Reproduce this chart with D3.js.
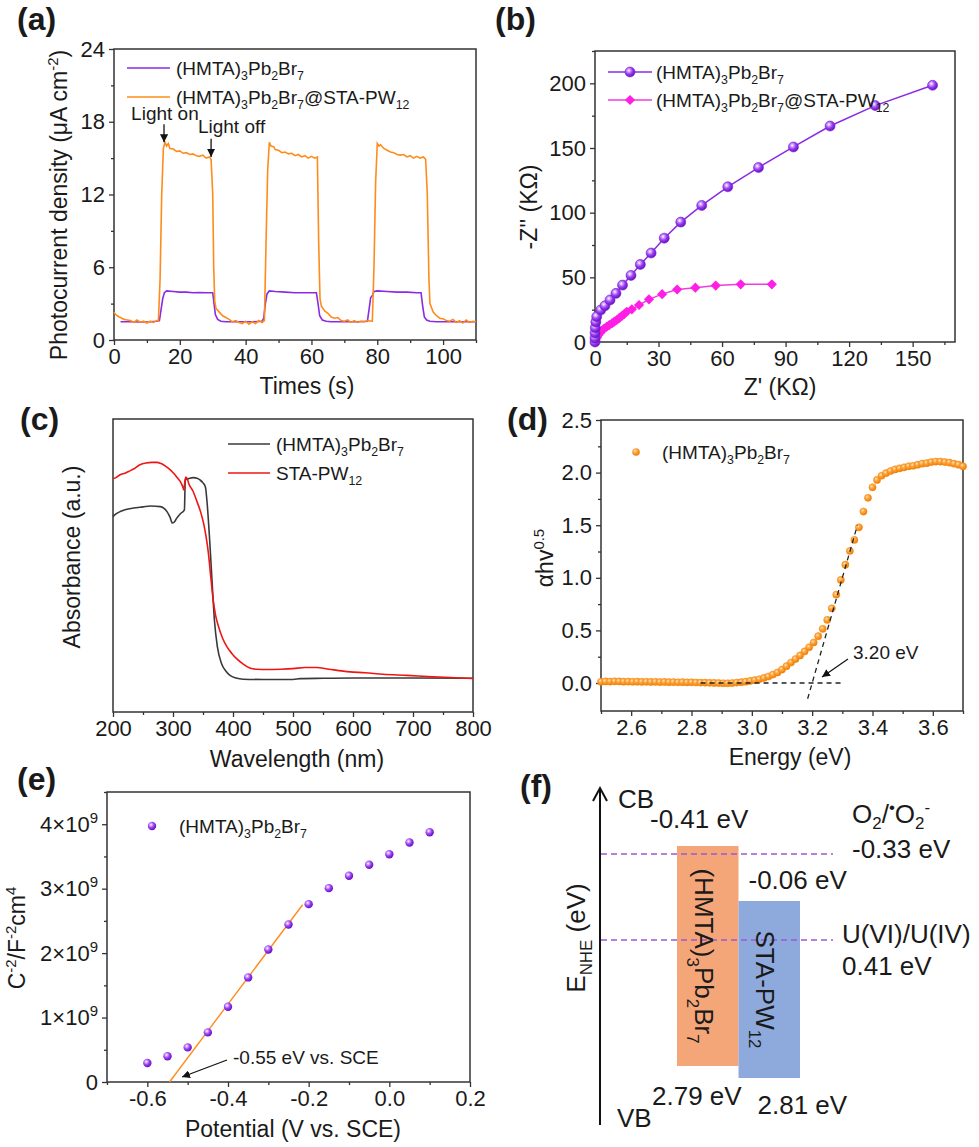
<!DOCTYPE html>
<html><head><meta charset="utf-8">
<script src="https://cdn.jsdelivr.net/npm/d3@7"></script>
<style>body{margin:0;background:#fff}</style>
</head><body>
<script>
// ================= DATA =================
// (a) photocurrent [time s, µA cm-2]
const photoPurple = [[2,1.5],[5,1.5],[8,1.48],[11,1.5],[13,1.55],[13.8,1.6],[14.3,2.5],[14.8,3.4],[15.3,3.9],[16,4.05],[18,4.0],[20,3.95],[22,3.95],[24,3.9],[26,3.92],[28,3.9],[30,3.9],[30.4,3.0],[30.8,2.1],[31.5,1.7],[32.5,1.55],[34,1.5],[38,1.5],[42,1.5],[45,1.55],[45.5,1.8],[46,3.0],[46.5,3.8],[47.2,4.05],[49,4.0],[52,3.95],[55,3.9],[58,3.9],[61.5,3.9],[62,3.0],[62.5,2.0],[63.3,1.65],[64.5,1.55],[66,1.5],[70,1.5],[74,1.5],[77,1.55],[77.5,2.5],[78,3.5],[78.6,3.7],[79,4.0],[80,4.05],[83,4.0],[86,3.95],[89,3.95],[92,3.9],[93.3,3.9],[93.8,2.8],[94.3,1.9],[95,1.65],[96,1.55],[98,1.5],[102,1.5],[106,1.5],[110,1.5]];
const photoOrange = [[0,2.3],[0.5,2.1],[1,2.0],[1.5,1.9],[2,1.85],[3,1.7],[4,1.65],[5,1.6],[6,1.45],[7,1.65],[8,1.45],[9,1.55],[10,1.4],[11,1.55],[12,1.45],[13,1.6],[13.5,1.6],[14,5],[14.5,12],[15,15.8],[15.5,16.3],[16,16.0],[16.5,16.2],[17,15.8],[18,15.75],[19,15.55],[20,15.6],[21,15.4],[22,15.45],[23,15.3],[24,15.35],[25,15.2],[26,15.15],[27,15.25],[28,15.0],[29,15.1],[29.5,14.9],[30,12],[30.3,6],[30.6,3.2],[31,2.6],[32,2.3],[33,2.0],[34,1.85],[35,1.7],[36,1.5],[37,1.6],[38,1.45],[39,1.35],[40,1.55],[41,1.3],[42,1.5],[43,1.35],[44,1.6],[45,1.45],[45.7,1.6],[46.2,8],[46.7,14],[47.2,16.3],[47.7,16.0],[48.5,15.95],[49,15.7],[50,15.65],[51,15.45],[52,15.5],[53,15.35],[54,15.4],[55,15.2],[56,15.3],[57,15.1],[58,15.2],[59,15.0],[60,15.15],[61,15.0],[61.8,15.1],[62.2,8],[62.6,3.4],[63,2.8],[64,2.4],[65,2.2],[66,1.9],[67,1.8],[68,1.85],[69,1.6],[70,1.55],[71,1.65],[72,1.45],[73,1.6],[74,1.45],[75,1.55],[76,1.5],[77,1.6],[78.5,1.55],[79,6],[79.5,13],[80,16.2],[80.5,16.0],[81,16.1],[82,15.8],[83,15.65],[84,15.5],[85,15.45],[86,15.3],[87,15.25],[88,15.3],[89,15.1],[90,15.2],[91,15.0],[92,15.15],[93,15.0],[94,15.1],[94.7,14.9],[95.2,12],[95.7,5],[96,3],[97,2.3],[98,2.0],[99,1.8],[100,1.75],[101,1.6],[102,1.55],[103,1.7],[104,1.45],[105,1.6],[106,1.4],[107,1.65],[108,1.45],[109,1.55],[110,1.5]];
const aXTicks = [0,20,40,60,80,100];
const aYTicks = [0,6,12,18,24];

// (b) Nyquist [Z' kΩ, -Z'' kΩ]
const nyqPurple = [[0,0],[0,3],[0.05,7],[0.15,11],[0.4,15.5],[0.8,19.6],[2.7,24.7],[4.7,28],[7.1,32.5],[9.9,37.6],[13,44],[17,51.5],[21.4,60],[26.5,68.8],[32.7,80.3],[40.5,92.7],[50.4,105.6],[62.7,120],[77.2,134.9],[93.7,150.8],[111,167],[132.3,182.8],[159.4,198.5]];
const nyqPink = [[0,0],[0.3,1.5],[0.9,3.5],[1.6,5.4],[2.4,7.1],[3.2,8.8],[4.3,10.3],[5.5,11.8],[6.7,13.1],[8,14.4],[9.1,15.7],[10.3,17],[11.5,18.6],[12.7,20.1],[13.9,21.8],[15,23.4],[17.4,25.3],[20.8,28.6],[25.5,33],[31.7,37],[38.8,40.6],[47.4,42],[57,43.6],[68.8,44.6],[83.5,44.6]];
const bXTicks = [0,30,60,90,120,150];
const bYTicks = [0,50,100,150,200];

// (c) UV-vis absorbance [nm, a.u.]
const absHMTA = [[200,0.667],[205,0.676],[212,0.684],[220,0.690],[234,0.696],[250,0.700],[262,0.703],[279,0.701],[285,0.695],[290,0.684],[295,0.665],[299,0.645],[303,0.650],[306,0.661],[312,0.676],[319,0.690],[320.5,0.792],[327,0.797],[334,0.800],[340,0.798],[345,0.792],[350,0.782],[354,0.768],[357,0.710],[361,0.590],[365,0.450],[369,0.314],[374,0.222],[381,0.165],[388,0.140],[395,0.125],[405,0.116],[417,0.112],[450,0.111],[500,0.111],[512,0.114],[550,0.115],[600,0.116],[700,0.116],[800,0.115]];
const absSTA = [[200,0.796],[205,0.800],[212,0.810],[220,0.815],[226,0.821],[235,0.830],[245,0.844],[255,0.850],[265,0.852],[273,0.852],[280,0.848],[284,0.844],[292,0.832],[301,0.815],[307,0.800],[312,0.787],[316,0.770],[318,0.758],[320,0.790],[321.5,0.802],[324,0.795],[326,0.781],[333,0.755],[340,0.718],[346,0.683],[351,0.644],[355,0.600],[359,0.542],[363,0.460],[367,0.382],[371,0.330],[376,0.291],[383,0.250],[390,0.222],[398,0.200],[406,0.182],[416,0.165],[428,0.150],[440,0.146],[456,0.145],[480,0.146],[500,0.148],[520,0.152],[539,0.152],[560,0.146],[595,0.137],[620,0.134],[650,0.129],[690,0.125],[733,0.120],[770,0.117],[800,0.114]];
const cXTicks = [200,300,400,500,600,700,800];

// (d) Tauc plot [eV, (αhν)^0.5]
const taucE = [2.500,2.515,2.530,2.545,2.560,2.575,2.590,2.605,2.620,2.635,2.650,2.665,2.680,2.695,2.710,2.725,2.740,2.755,2.770,2.785,2.800,2.815,2.830,2.845,2.860,2.875,2.890,2.905,2.920,2.935,2.950,2.965,2.980,2.995,3.010,3.025,3.040,3.055,3.070,3.085,3.100,3.115,3.130,3.145,3.160,3.175,3.190,3.205,3.220,3.235,3.250,3.265,3.280,3.295,3.310,3.325,3.340,3.355,3.370,3.385,3.400,3.415,3.430,3.445,3.460,3.475,3.490,3.505,3.520,3.535,3.550,3.565,3.580,3.595,3.610,3.625,3.640,3.655,3.670,3.685,3.700];
const taucY = [0.012,0.015,0.014,0.016,0.015,0.013,0.014,0.012,0.013,0.011,0.012,0.010,0.011,0.009,0.010,0.008,0.009,0.007,0.008,0.006,0.007,0.005,0.004,0.003,0.002,0.001,0.000,-0.002,-0.002,0.000,0.004,0.008,0.013,0.020,0.027,0.036,0.048,0.062,0.080,0.100,0.128,0.160,0.195,0.228,0.262,0.300,0.340,0.385,0.445,0.515,0.600,0.710,0.840,0.980,1.125,1.255,1.360,1.480,1.630,1.760,1.860,1.930,1.970,1.995,2.015,2.030,2.040,2.050,2.060,2.065,2.075,2.085,2.090,2.100,2.105,2.105,2.100,2.095,2.085,2.075,2.060];
const taucBase = [[2.83,0],[3.30,0]];
const taucTangent = [[3.185,-0.15],[3.35,1.50]];
const dXTicks = [2.6,2.8,3.0,3.2,3.4,3.6];
const dYTicks = [0,0.5,1.0,1.5,2.0,2.5];

// (e) Mott-Schottky [V vs SCE, C^-2]
const msV = [-0.60,-0.55,-0.50,-0.45,-0.40,-0.35,-0.30,-0.25,-0.20,-0.15,-0.10,-0.05,0.00,0.05,0.10];
const msC = [0.295e9,0.40e9,0.537e9,0.77e9,1.168e9,1.623e9,2.057e9,2.444e9,2.76e9,3.008e9,3.20e9,3.37e9,3.535e9,3.716e9,3.876e9];
const msFit = [[-0.545,0],[-0.215,2.75e9]];
const eXTicks = [-0.6,-0.4,-0.2,0.0,0.2];
const eYTicks = [0,1e9,2e9,3e9,4e9];

// (f) band structure (eV vs NHE)
const bandNames = ["(HMTA)_{3}Pb_{2}Br_{7}", "STA-PW_{12}"];
const bandCB = [-0.41, -0.06];
const bandVB = [2.79, 2.81];
const redoxNames = ["O_{2}/^{•}O_{2}^{-}", "U(VI)/U(IV)"];
const redoxValues = [-0.33, 0.41];

// ================= DRAWING =================
const FONT = 'Arial, "Liberation Sans", Helvetica, sans-serif';
const INK = '#1a1a1a';
const svg = d3.select('body').append('svg').attr('width', 979).attr('height', 1147)
  .attr('font-family', FONT).attr('fill', INK);
svg.append('rect').attr('width', 979).attr('height', 1147).attr('fill', '#fff');

const defs = svg.append('defs');
function ball(id, stops) {
  const g = defs.append('radialGradient').attr('id', id).attr('cx', '38%').attr('cy', '35%').attr('r', '65%');
  stops.forEach(([o, c]) => g.append('stop').attr('offset', o).attr('stop-color', c));
}
ball('ballP', [[0, '#ffffff'], [0.22, '#d2a8ff'], [0.55, '#9b3ef2'], [1, '#6510c4']]);
ball('ballO', [[0, '#ffe6bf'], [0.35, '#ffab4a'], [1, '#f07c00']]);
defs.append('marker').attr('id', 'arr').attr('viewBox', '0 0 10 10').attr('refX', 10).attr('refY', 5)
  .attr('markerWidth', 8).attr('markerHeight', 8).attr('markerUnits', 'userSpaceOnUse').attr('orient', 'auto')
  .append('path').attr('d', 'M0,0L10,5L0,10z').attr('fill', '#111');

function rich(sel, str, size, subK = 0.28) {
  const toks = str.split(/(_\{[^}]*\}|\^\{[^}]*\})/).filter(s => s.length);
  let shift = 0;
  toks.forEach(tk => {
    let kind = null, s = tk;
    if (tk.startsWith('_{')) { kind = 'sub'; s = tk.slice(2, -1); }
    else if (tk.startsWith('^{')) { kind = 'sup'; s = tk.slice(2, -1); }
    const target = kind === 'sub' ? size * subK : kind === 'sup' ? -size * 0.4 : 0;
    const ts = sel.append('tspan').attr('dy', target - shift).text(s);
    if (kind) ts.attr('font-size', size * 0.65);
    shift = target;
  });
  return sel;
}
function label(x, y, str, size, opt = {}) {
  const t = svg.append('text').attr('x', x).attr('y', y).attr('font-size', size).attr('fill', INK);
  if (opt.anchor) t.attr('text-anchor', opt.anchor);
  if (opt.rot) t.attr('transform', `rotate(${opt.rot},${x},${y})`);
  if (opt.bold) t.attr('font-weight', 'bold');
  return rich(t, str, size, opt.subK);
}
const hy = f => d => f(d).replace('\u2212', '-');

function axes(x, y, o) {
  const [x0, x1] = x.range(), [y0, y1] = y.range();
  const st = sel => {
    sel.select('.domain').remove();
    sel.selectAll('line').attr('stroke', '#333').attr('stroke-width', 1.3);
    sel.selectAll('text').attr('font-size', 22).attr('fill', INK).attr('font-family', FONT);
  };
  if (o.xm) svg.append('g').attr('transform', `translate(0,${y0})`)
    .call(d3.axisBottom(x).tickValues(o.xm).tickSize(3).tickFormat(() => '')).call(st);
  svg.append('g').attr('transform', `translate(0,${y0})`)
    .call(d3.axisBottom(x).tickValues(o.xt).tickSize(5).tickPadding(3).tickFormat(o.xf)).call(st);
  let gl = null;
  if (o.yt) {
    if (o.ym) svg.append('g').attr('transform', `translate(${x0},0)`)
      .call(d3.axisLeft(y).tickValues(o.ym).tickSize(3).tickFormat(() => '')).call(st);
    gl = svg.append('g').attr('transform', `translate(${x0},0)`)
      .call(d3.axisLeft(y).tickValues(o.yt).tickSize(5).tickPadding(4).tickFormat(o.yf)).call(st);
  }
  svg.append('rect').attr('x', x0).attr('y', y1).attr('width', x1 - x0).attr('height', y0 - y1)
    .attr('fill', 'none').attr('stroke', '#333').attr('stroke-width', 1.5);
  return gl;
}

const PURPLE = '#8a2be2', ORANGE = '#ff8c1a';

// ---------- (a) ----------
{
  const x = d3.scaleLinear([0, 110], [114, 476]);
  const y = d3.scaleLinear([0, 24], [340, 49]);
  axes(x, y, { xt: aXTicks, xm: d3.range(10, 111, 20), xf: d3.format('d'), yt: aYTicks, ym: [3, 9, 15, 21], yf: d3.format('d') });
  const line = d3.line().x(d => x(d[0])).y(d => y(d[1]));
  svg.append('path').datum(photoPurple).attr('d', line).attr('fill', 'none').attr('stroke', PURPLE).attr('stroke-width', 1.6);
  svg.append('path').datum(photoOrange).attr('d', line).attr('fill', 'none').attr('stroke', ORANGE).attr('stroke-width', 1.6);
  // legend
  [[PURPLE, '(HMTA)_{3}Pb_{2}Br_{7}', 68], [ORANGE, '(HMTA)_{3}Pb_{2}Br_{7}@STA-PW_{12}', 97]].forEach(([c, s, yy]) => {
    svg.append('line').attr('x1', 127).attr('x2', 170).attr('y1', yy).attr('y2', yy).attr('stroke', c).attr('stroke-width', 1.6);
    label(176, yy + 7, s, 19);
  });
  label(x(5.2), y(18.15), 'Light on', 19);
  label(x(25.5), y(17.1), 'Light off', 19);
  [[15.2, 17.8, 16.3], [29.5, 16.6, 15.1]].forEach(([t, a, b]) =>
    svg.append('line').attr('x1', x(t)).attr('x2', x(t)).attr('y1', y(a)).attr('y2', y(b))
      .attr('stroke', '#111').attr('stroke-width', 1.3).attr('marker-end', 'url(#arr)'));
  label(307, 394, 'Times (s)', 23, { anchor: 'middle' });
  label(67, 205, 'Photocurrent density (\u03bcA cm^{-2})', 23, { anchor: 'middle', rot: -90 });
  label(17, 30, '(a)', 32, { bold: true });
}

// ---------- (b) ----------
{
  const x = d3.scaleLinear([0, 170], [595, 955]);
  const y = d3.scaleLinear([0, 225], [342, 51]);
  axes(x, y, { xt: bXTicks, xm: d3.range(15, 170, 30), xf: d3.format('d'), yt: bYTicks, ym: [25, 75, 125, 175, 225], yf: d3.format('d') });
  const line = d3.line().x(d => x(d[0])).y(d => y(d[1]));
  const PINK = '#f03ce0', MAG = '#ff1ee6';
  svg.append('path').datum(nyqPink).attr('d', line).attr('fill', 'none').attr('stroke', PINK).attr('stroke-width', 1.5);
  svg.append('path').datum(nyqPurple).attr('d', line).attr('fill', 'none').attr('stroke', PURPLE).attr('stroke-width', 1.5);
  const dia = d3.symbol(d3.symbolSquare, 52)();
  svg.append('g').selectAll('path').data(nyqPink).join('path').attr('d', dia)
    .attr('transform', d => `translate(${x(d[0])},${y(d[1])}) rotate(45)`).attr('fill', MAG);
  svg.append('g').selectAll('circle').data(nyqPurple).join('circle')
    .attr('cx', d => x(d[0])).attr('cy', d => y(d[1])).attr('r', 5).attr('fill', 'url(#ballP)').attr('stroke', '#7a22d0').attr('stroke-width', 0.6);
  // legend
  svg.append('line').attr('x1', 608).attr('x2', 652).attr('y1', 72).attr('y2', 72).attr('stroke', PURPLE).attr('stroke-width', 1.5);
  svg.append('circle').attr('cx', 630).attr('cy', 72).attr('r', 5).attr('fill', 'url(#ballP)').attr('stroke', '#7a22d0').attr('stroke-width', 0.6);
  label(656, 79, '(HMTA)_{3}Pb_{2}Br_{7}', 19);
  svg.append('line').attr('x1', 608).attr('x2', 652).attr('y1', 100).attr('y2', 100).attr('stroke', PINK).attr('stroke-width', 1.5);
  svg.append('path').attr('d', dia).attr('transform', 'translate(630,100) rotate(45)').attr('fill', MAG);
  label(656, 107, '(HMTA)_{3}Pb_{2}Br_{7}@STA-PW_{12}', 19);
  label(780, 395, "Z' (K\u03a9)", 23, { anchor: 'middle' });
  label(537, 207, "-Z'' (K\u03a9)", 23, { anchor: 'middle', rot: -90 });
  label(495, 30, '(b)', 32, { bold: true });
}

// ---------- (c) ----------
{
  const x = d3.scaleLinear([200, 800], [113, 473]);
  const y = d3.scaleLinear([0, 1], [712, 419]);
  axes(x, y, { xt: cXTicks, xm: d3.range(250, 800, 100), xf: d3.format('d') });
  const line = d3.line().x(d => x(d[0])).y(d => y(d[1])).curve(d3.curveMonotoneX);
  svg.append('path').datum(absHMTA).attr('d', line).attr('fill', 'none').attr('stroke', '#3a3a3a').attr('stroke-width', 1.6);
  svg.append('path').datum(absSTA).attr('d', line).attr('fill', 'none').attr('stroke', '#f01515').attr('stroke-width', 1.6);
  svg.append('line').attr('x1', 228).attr('x2', 270).attr('y1', 444).attr('y2', 444).attr('stroke', '#3a3a3a').attr('stroke-width', 1.6);
  label(276, 451, '(HMTA)_{3}Pb_{2}Br_{7}', 19);
  svg.append('line').attr('x1', 228).attr('x2', 270).attr('y1', 473).attr('y2', 473).attr('stroke', '#f01515').attr('stroke-width', 1.6);
  label(276, 480, 'STA-PW_{12}', 19);
  label(297, 767, 'Wavelength (nm)', 23, { anchor: 'middle' });
  label(80, 557, 'Absorbance (a.u.)', 23, { anchor: 'middle', rot: -90 });
  label(20, 430, '(c)', 32, { bold: true });
}

// ---------- (d) ----------
{
  const x = d3.scaleLinear([2.5, 3.7], [601, 963]);
  const y = d3.scaleLinear([-0.266, 2.5], [711, 420]);
  axes(x, y, { xt: dXTicks, xm: [2.5, 2.7, 2.9, 3.1, 3.3, 3.5, 3.7], xf: d3.format('.1f'), yt: dYTicks, ym: [0.25, 0.75, 1.25, 1.75, 2.25], yf: d3.format('.1f') });
  const line = d3.line().x(d => x(d[0])).y(d => y(d[1]));
  svg.append('g').selectAll('circle').data(taucE.map((e, i) => [e, taucY[i]])).join('circle')
    .attr('cx', d => x(d[0])).attr('cy', d => y(d[1])).attr('r', 3.6).attr('fill', 'url(#ballO)').attr('stroke', '#f08a10').attr('stroke-width', 0.5);
  [taucBase, taucTangent].forEach(seg => svg.append('path').datum(seg).attr('d', line)
    .attr('fill', 'none').attr('stroke', '#222').attr('stroke-width', 1.3).attr('stroke-dasharray', '5,4'));
  svg.append('circle').attr('cx', 636).attr('cy', 452).attr('r', 3.8).attr('fill', 'url(#ballO)');
  label(662, 459, '(HMTA)_{3}Pb_{2}Br_{7}', 19);
  label(853, 659, '3.20 eV', 19);
  svg.append('line').attr('x1', 848).attr('y1', 659).attr('x2', 822).attr('y2', 677)
    .attr('stroke', '#111').attr('stroke-width', 1.2).attr('marker-end', 'url(#arr)');
  label(790, 765, 'Energy (eV)', 23, { anchor: 'middle' });
  label(553, 558, '\u03b1hv^{0.5}', 23, { anchor: 'middle', rot: -90 });
  label(507, 430, '(d)', 32, { bold: true });
}

// ---------- (e) ----------
{
  const x = d3.scaleLinear([-0.7, 0.2], [107, 470]);
  const y = d3.scaleLinear([0, 4.5e9], [1082, 792]);
  const gl = axes(x, y, { xt: eXTicks, xm: [-0.7, -0.5, -0.3, -0.1, 0.1], xf: hy(d3.format('.1f')), yt: eYTicks, ym: [0.5e9, 1.5e9, 2.5e9, 3.5e9, 4.5e9], yf: d => '' });
  gl.selectAll('.tick text').each(function (d) {
    const t = d3.select(this);
    if (d === 0) { t.text('0'); return; }
    t.append('tspan').text(`${d / 1e9}\u00d710`);
    t.append('tspan').attr('dy', -9).attr('font-size', 15).text('9');
  });
  const line = d3.line().x(d => x(d[0])).y(d => y(d[1]));
  svg.append('path').datum(msFit).attr('d', line).attr('stroke', ORANGE).attr('stroke-width', 1.4).attr('fill', 'none');
  svg.append('g').selectAll('circle').data(msV.map((v, i) => [v, msC[i]])).join('circle')
    .attr('cx', d => x(d[0])).attr('cy', d => y(d[1])).attr('r', 4.2).attr('fill', 'url(#ballP)');
  svg.append('circle').attr('cx', 152).attr('cy', 826).attr('r', 4.2).attr('fill', 'url(#ballP)');
  label(179, 833, '(HMTA)_{3}Pb_{2}Br_{7}', 19);
  label(233, 1064, '-0.55 eV vs. SCE', 19);
  svg.append('line').attr('x1', 227).attr('y1', 1060).attr('x2', 182).attr('y2', 1077)
    .attr('stroke', '#111').attr('stroke-width', 1.2).attr('marker-end', 'url(#arr)');
  label(293, 1137, 'Potential (V vs. SCE)', 23, { anchor: 'middle' });
  label(25, 938, 'C^{-2}/F^{-2}cm^{4}', 23, { anchor: 'middle', rot: -90 });
  label(17, 790, '(e)', 32, { bold: true });
}

// ---------- (f) ----------
{
  const yE = d3.scaleLinear().domain([-0.41, -0.33, -0.06, 0.41, 2.79, 2.81]).range([846, 854, 901, 940, 1066, 1078]);
  const xB = d3.scaleBand().domain(bandNames).range([677, 800]);
  const fills = ['#f5a679', '#8eaadd'];
  const FS = 26;
  // axis arrow
  svg.append('line').attr('x1', 600).attr('x2', 600).attr('y1', 1125).attr('y2', 789).attr('stroke', '#111').attr('stroke-width', 2);
  svg.append('path').attr('d', 'M593,801L600,788L607,801').attr('fill', 'none').attr('stroke', '#111').attr('stroke-width', 2);
  label(618, 808, 'CB', FS);
  label(617, 1127, 'VB', FS);
  label(585, 938, 'E_{NHE} (eV)', FS, { anchor: 'middle', rot: -90 });
  // boxes
  bandNames.forEach((n, i) => {
    svg.append('rect').attr('x', xB(n)).attr('y', yE(bandCB[i])).attr('width', xB.bandwidth())
      .attr('height', yE(bandVB[i]) - yE(bandCB[i])).attr('fill', fills[i]);
  });
  // redox dashed lines
  redoxValues.forEach(v => svg.append('line').attr('x1', 601).attr('x2', 833).attr('y1', yE(v)).attr('y2', yE(v))
    .attr('stroke', '#9a5ad8').attr('stroke-width', 1.6).attr('stroke-dasharray', '6,4'));
  // rotated band names
  bandNames.forEach((n, i) => {
    const cx = xB(n) + xB.bandwidth() / 2 - 13, cy = (yE(bandCB[i]) + yE(bandVB[i])) / 2;
    label(cx, cy, n, FS, { anchor: 'middle', rot: 90 });
  });
  const ev = v => `${v.toFixed(2).replace('\u2212', '-')} eV`;
  label(xB(bandNames[0]) - 27, yE(bandCB[0]) - 18, ev(bandCB[0]), FS);
  label(xB(bandNames[0]) - 25, yE(bandVB[0]) + 39, ev(bandVB[0]), FS);
  label(xB(bandNames[1]) + 10, yE(bandCB[1]) - 12, ev(bandCB[1]), FS);
  label(xB(bandNames[1]) + 19, yE(bandVB[1]) + 36, ev(bandVB[1]), FS);
  label(852, yE(redoxValues[0]) - 31, redoxNames[0], FS, { subK: 0.22 });
  label(852, yE(redoxValues[0]) + 4, ev(redoxValues[0]), FS);
  label(842, yE(redoxValues[1]) + 3, redoxNames[1], FS);
  label(842, yE(redoxValues[1]) + 35, ev(redoxValues[1]), FS);
  label(520, 797, '(f)', 32, { bold: true });
}
</script>
</body></html>
